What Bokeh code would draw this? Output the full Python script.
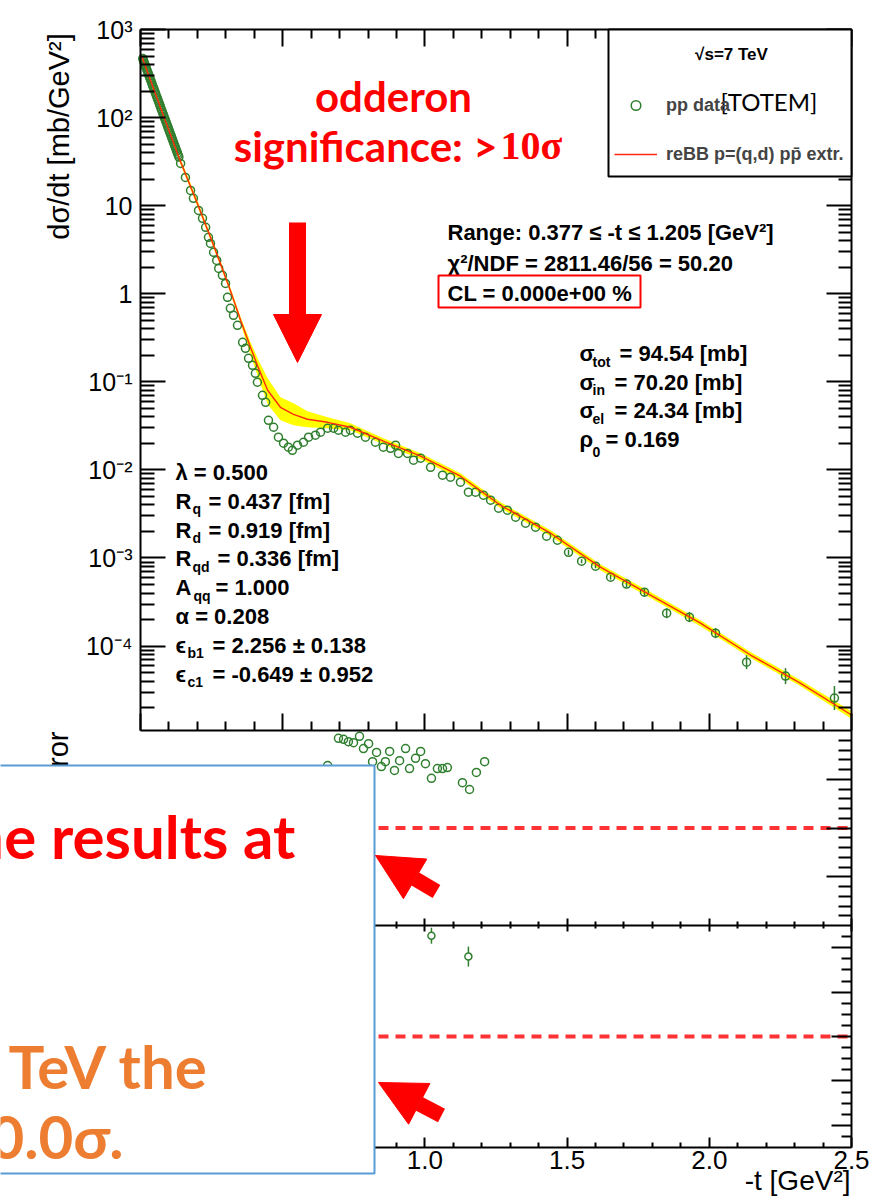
import math
from bokeh.plotting import figure
from bokeh.models import (Range1d, LinearAxis, LogAxis, FixedTicker, Label, LinearScale,
                          BoxAnnotation, Arrow, NormalHead, Legend, LegendItem)
from bokeh.embed import file_html
from bokeh.resources import INLINE

# ---------------------------------------------------------------- data
t_data = [0.008, 0.010, 0.012, 0.014, 0.016, 0.018, 0.020, 0.0225, 0.025, 0.0275,
          0.030, 0.0325, 0.035, 0.0375, 0.040, 0.0425, 0.045, 0.0475, 0.050, 0.0525,
          0.055, 0.0575, 0.060, 0.0625, 0.065, 0.0675, 0.070, 0.0725, 0.075, 0.0775,
          0.080, 0.0825, 0.085, 0.0875, 0.090, 0.0925, 0.095, 0.0975, 0.100, 0.1025,
          0.105, 0.1075, 0.110, 0.1125, 0.115, 0.1175, 0.120, 0.1225, 0.125, 0.1275,
          0.130, 0.1325, 0.135,
          0.141, 0.158, 0.176, 0.186, 0.204, 0.218, 0.229, 0.239, 0.246, 0.257,
          0.268, 0.275, 0.288, 0.299, 0.306, 0.316, 0.327, 0.341, 0.359, 0.369,
          0.380, 0.394, 0.404, 0.411, 0.429, 0.440, 0.450, 0.468, 0.485, 0.503,
          0.520, 0.534, 0.552, 0.573, 0.591, 0.615, 0.633, 0.658, 0.679, 0.696,
          0.721, 0.738, 0.763, 0.791, 0.826, 0.854, 0.879, 0.897, 0.907, 0.939,
          0.960, 0.985, 1.020, 1.062, 1.090, 1.125, 1.153, 1.178, 1.206, 1.231,
          1.259, 1.290, 1.319, 1.354, 1.389, 1.428, 1.466, 1.505, 1.551, 1.600,
          1.653, 1.709, 1.772, 1.850, 1.930, 2.022, 2.131, 2.268, 2.440]
dsig_data = [468, 449, 431, 414, 397, 381, 366, 348, 331, 315,
             299, 284, 270, 257, 244, 232, 221, 210, 200, 190,
             180, 171, 163, 155, 147, 140, 133, 126, 120, 114,
             109, 103, 98.2, 93.3, 88.7, 84.3, 80.2, 76.2, 72.4, 68.9,
             65.5, 62.3, 59.2, 56.3, 53.5, 50.8, 48.3, 45.9, 43.6, 41.5,
             39.4, 37.5, 35.6,
             30.2, 20.9, 14.9, 12.1, 8.83, 7.18, 5.67, 4.37, 3.73, 2.95,
             2.39, 1.94, 1.62, 1.31, 0.910, 0.684, 0.569, 0.438, 0.281, 0.240,
             0.185, 0.154, 0.125, 0.0989, 0.0703, 0.0586, 0.0366, 0.0305, 0.0235, 0.0201,
             0.0181, 0.0167, 0.0191, 0.0206, 0.0235, 0.0248, 0.0268, 0.0297, 0.0297, 0.0282,
             0.0268, 0.0282, 0.0261, 0.0235, 0.0206, 0.0181, 0.0176, 0.0191, 0.0154, 0.0154,
             0.0129, 0.0136, 0.0107, 0.00871, 0.00826, 0.00725, 0.00558, 0.00558, 0.00516, 0.00453,
             0.00367, 0.00349, 0.00290, 0.00248, 0.00224, 0.00177, 0.00159, 0.00116, 0.000920, 0.000807,
             0.000606, 0.000505, 0.000409, 0.000236, 0.000213, 0.000140, 0.0000657, 0.0000456, 0.0000257]

# visible error bars of the data
bar_t = [1.505, 1.551, 1.600, 1.653, 1.709, 1.772, 1.850, 1.930, 2.022, 2.131, 2.268, 2.440]
bar_lo = [0.00108, 0.000872, 0.000765, 0.000567, 0.000467, 0.000369, 0.000207, 0.000187,
          0.000123, 0.0000547, 0.0000370, 0.0000188]
bar_hi = [0.00124, 0.000970, 0.000851, 0.000647, 0.000546, 0.000454, 0.000269, 0.000243,
          0.000160, 0.0000789, 0.0000562, 0.0000352]

# reBB model curve and its uncertainty band
model_t = [0.005, 0.081, 0.141, 0.200, 0.246, 0.281, 0.316, 0.352, 0.387, 0.415,
           0.447, 0.492, 0.538, 0.587, 0.658, 0.738, 0.854, 0.985, 1.125, 1.266,
           1.442, 1.617, 1.793, 1.969, 2.145, 2.320, 2.500]
model_dsig = [490, 104, 31.5, 10.6, 4.37, 2.21, 1.09, 0.499, 0.246, 0.143,
              0.0802, 0.0514, 0.0428, 0.0376, 0.0347, 0.0305, 0.0212, 0.0143, 0.00848, 0.00397,
              0.00191, 0.000787, 0.000379, 0.000182, 0.0000791, 0.0000380, 0.0000165]
band_lo = [453, 96.2, 29.2, 9.8, 4.04, 2.04, 1.01, 0.455, 0.200, 0.110,
           0.0556, 0.0366, 0.0321, 0.0305, 0.0297, 0.0282, 0.0196, 0.0132, 0.00784, 0.00367,
           0.00177, 0.000728, 0.000351, 0.000168, 0.0000732, 0.0000352, 0.0000150]
band_hi = [530, 112.4, 34.0, 11.5, 4.72, 2.39, 1.18, 0.545, 0.281, 0.176,
           0.110, 0.0668, 0.0571, 0.0463, 0.0396, 0.0339, 0.0229, 0.0155, 0.00917, 0.00429,
           0.00206, 0.000851, 0.000410, 0.000197, 0.0000855, 0.0000411, 0.0000182]

# residual panels
res1_t = [0.658, 0.696, 0.714, 0.731, 0.749, 0.770, 0.784, 0.802, 0.816, 0.830,
          0.847, 0.861, 0.876, 0.893, 0.911, 0.932, 0.946, 0.967, 0.985, 1.002,
          1.023, 1.044, 1.062, 1.079, 1.132, 1.157, 1.181, 1.210]
res1_val = [12.8, 18.4, 18.2, 17.7, 17.5, 18.8, 16.3, 17.3, 13.6, 15.5,
            12.6, 13.6, 15.7, 11.8, 13.8, 16.3, 12.2, 14.3, 15.7, 13.2,
            10.2, 12.2, 12.2, 12.4, 9.3, 7.9, 11.4, 13.6]
res2_t = [1.023, 1.153]
res2_val = [2.27, 1.80]
res2_lo = [2.09, 1.575]
res2_hi = [2.45, 2.025]

# axes ticks
x_major = [0.0, 0.5, 1.0, 1.5, 2.0, 2.5]
x_tick_labels = ["", "", "1.0", "1.5", "2.0", "2.5"]
x_minor = [0.1, 0.2, 0.3, 0.4, 0.6, 0.7, 0.8, 0.9, 1.1, 1.2, 1.3, 1.4, 1.6, 1.7, 1.8, 1.9,
           2.1, 2.2, 2.3, 2.4]
y_major = [1e-4, 1e-3, 1e-2, 1e-1, 1.0, 10.0, 100.0, 1000.0]
y_tick_labels = ["10\u207b\u2074", "10\u207b\u00b3", "10\u207b\u00b2", "10\u207b\u00b9",
                 "1", "10", "10\u00b2", "10\u00b3"]
res1_major = [-10, 0, 10]
res2_major = [-2, -1, 0, 1, 2]

# texts
fit_lines = ["Range: 0.377 \u2264 -t \u2264 1.205 [GeV\u00b2]",
             "\u03c7\u00b2/NDF = 2811.46/56 = 50.20",
             "CL = 0.000e+00 %"]
# (symbol, subscript, rest)
params_left = [("\u03bb = 0.500", "", ""),
               ("R", "q", "= 0.437 [fm]"),
               ("R", "d", "= 0.919 [fm]"),
               ("R", "qd", "= 0.336 [fm]"),
               ("A", "qq", "= 1.000"),
               ("\u03b1 = 0.208", "", ""),
               ("\u03f5", "b1", "= 2.256 \u00b1 0.138"),
               ("\u03f5", "c1", "= -0.649 \u00b1 0.952")]
params_right = [("\u03c3", "tot", "= 94.54 [mb]"),
                ("\u03c3", "in", "= 70.20 [mb]"),
                ("\u03c3", "el", "= 24.34 [mb]"),
                ("\u03c1", "0", "= 0.169")]

# ---------------------------------------------------------------- layout
W, H = 871, 1197
FL, FR, FT, FB = 140, 851, 29, 1147      # frame of the physics plot (px)
P1B, P2B = 730, 925                     # panel borders (px)
X0, X1 = 0.0, 2.5
Y_TOP, Y1_BOTTOM = 1e3, 1.1e-5
RES1_HALF, RES2_HALF = 20.0, 2.5
GREEN = "#2f7f2f"

PXDEC = (P1B - FT) / (math.log10(Y_TOP) - math.log10(Y1_BOTTOM))


def dx(px):
    return X0 + (px - FL) * (X1 - X0) / (FR - FL)


def dy(py):
    return 10 ** (math.log10(Y_TOP) - (py - FT) / PXDEC)


u1 = (P2B - P1B) / (2 * RES1_HALF)
m1 = (P1B + P2B) / 2
u2 = (FB - P2B) / (2 * RES2_HALF)
m2 = (P2B + FB) / 2

p = figure(width=W, height=H, x_range=Range1d(dx(0), dx(W)), y_range=Range1d(dy(H), dy(0)),
           y_axis_type="log", output_backend="svg", toolbar_location=None,
           min_border_left=0, min_border_right=0, min_border_top=0, min_border_bottom=0,
           background_fill_color="white", border_fill_color="white",
           outline_line_color=None)
p.extra_y_ranges = {"res1": Range1d((m1 - H) / u1, m1 / u1),
                    "res2": Range1d((m2 - H) / u2, m2 / u2)}
p.extra_y_scales = {"res1": LinearScale(), "res2": LinearScale()}
p.xgrid.visible = False
p.ygrid.visible = False


def style_axis(ax, major_in, minor_in, major_out=0, minor_out=0, labels=True):
    ax.axis_line_width = 2
    ax.axis_line_color = "black"
    ax.major_tick_in = major_in
    ax.major_tick_out = major_out
    ax.minor_tick_in = minor_in
    ax.minor_tick_out = minor_out
    ax.major_tick_line_width = 2
    ax.minor_tick_line_width = 2
    if labels:
        ax.major_label_text_font = "Liberation Sans"
        ax.major_label_text_color = "black"
    else:
        ax.major_label_text_font_size = "1px"
        ax.major_label_text_color = None
        ax.major_label_standoff = 0


y_minor = [k * 10.0 ** e for e in range(-5, 3) for k in range(2, 10)]
x_ticker = FixedTicker(ticks=x_major, minor_ticks=x_minor)
y_ticker = FixedTicker(ticks=y_major, minor_ticks=y_minor)

# left axis of the upper panel
ya = p.yaxis[0]
ya.ticker = y_ticker
ya.fixed_location = X0
ya.bounds = (Y1_BOTTOM, Y_TOP)
ya.major_label_overrides = dict(zip(y_major, y_tick_labels))
style_axis(ya, 25, 14)
ya.major_label_text_font_size = "25px"
ya.major_label_standoff = 8

# bottom axis (under the lowest panel)
xa = p.xaxis[0]
xa.ticker = x_ticker
xa.fixed_location = dy(FB)
xa.bounds = (X0, X1)
xa.major_label_overrides = dict(zip(x_major, x_tick_labels))
style_axis(xa, 10, 5)
xa.major_label_text_font_size = "26px"
xa.major_label_standoff = 3

# top axis and the two panel borders
top = LinearAxis(ticker=x_ticker, fixed_location=Y_TOP, bounds=(X0, X1))
style_axis(top, 17, 9, labels=False)
p.add_layout(top, "above")
b1 = LinearAxis(ticker=x_ticker, fixed_location=Y1_BOTTOM, bounds=(X0, X1))
style_axis(b1, 17, 9, labels=False)
p.add_layout(b1, "below")
b2 = LinearAxis(ticker=x_ticker, fixed_location=dy(P2B), bounds=(X0, X1))
style_axis(b2, 7, 4, major_out=6, minor_out=3, labels=False)
p.add_layout(b2, "below")

# right axes of the three panels
r_main = LogAxis(ticker=y_ticker, fixed_location=X1, bounds=(Y1_BOTTOM, Y_TOP))
style_axis(r_main, 25, 13, labels=False)
p.add_layout(r_main, "right")
r1 = LinearAxis(y_range_name="res1", fixed_location=X1, bounds=(-RES1_HALF, RES1_HALF),
                ticker=FixedTicker(ticks=res1_major,
                                   minor_ticks=[v for v in range(-18, 19, 2) if v % 10]))
style_axis(r1, 25, 13, labels=False)
p.add_layout(r1, "right")
r2 = LinearAxis(y_range_name="res2", fixed_location=X1, bounds=(-RES2_HALF, RES2_HALF),
                ticker=FixedTicker(ticks=res2_major,
                                   minor_ticks=[k / 4 for k in range(-9, 10) if k % 4]))
style_axis(r2, 20, 10, labels=False)
p.add_layout(r2, "right")

# ---------------------------------------------------------------- glyphs
p.varea(x=model_t, y1=band_lo, y2=band_hi, fill_color="#ffff00")
pts = p.scatter(t_data, dsig_data, marker="circle", size=8, fill_color=None,
                line_color=GREEN, line_width=1.5)
p.segment(x0=bar_t, y0=bar_lo, x1=bar_t, y1=bar_hi, line_color=GREEN, line_width=1.5)
model = p.line(model_t, model_dsig, line_color="#ff2a10", line_width=1.4)

p.scatter(res1_t, res1_val, y_range_name="res1", marker="circle", size=8, fill_color=None,
          line_color=GREEN, line_width=1.5)
p.segment(x0=res2_t, y0=res2_lo, x1=res2_t, y1=res2_hi, y_range_name="res2",
          line_color=GREEN, line_width=1.5)
p.scatter(res2_t, res2_val, y_range_name="res2", marker="circle", size=7, fill_color="white",
          line_color=GREEN, line_width=1.5)

# zero lines of the residual panels
for rname in ("res1", "res2"):
    p.segment(x0=[X0], y0=[0.0], x1=[X1], y1=[0.0], y_range_name=rname,
              line_color="#ff3333", line_width=4, line_dash="10 7")


# ---------------------------------------------------------------- texts
def label(px, py, text, size, color="black", font="Liberation Sans", style="bold",
          align="left", baseline="middle", angle=0.0):
    p.add_layout(Label(x=dx(px), y=dy(py), text=text, text_font_size=f"{size}px",
                       text_color=color, text_font=font, text_font_style=style,
                       text_align=align, text_baseline=baseline, angle=angle))


label(58, 136, "d\u03c3/dt [mb/GeV\u00b2]", 29, style="normal", align="center", angle=math.pi / 2)
label(57, 731, "ror", 29, style="normal", align="right", angle=math.pi / 2)
label(850, 1180, "-t [GeV\u00b2]", 28, style="normal", align="right")

for i, s in enumerate(fit_lines):
    label(447, 232 + 30.5 * i, s, 22)

left_sub_x = [0, 192, 192, 192, 193, 0, 187, 187]
left_eq_x = [0, 208, 208, 217, 215, 0, 212, 212]
for i, (sym, sub, rest) in enumerate(params_left):
    y = 472 + 28.8 * i
    label(175, y, sym, 22)
    if sub:
        label(left_sub_x[i], y + 8, sub, 14)
        label(left_eq_x[i], y, rest, 22)

right_eq_x = [619, 614, 614, 605]
right_sub_dy = [8, 8, 8, 13]
for i, (sym, sub, rest) in enumerate(params_right):
    y = 353 + 28.5 * i
    label(579, y, sym, 22)
    label(592, y + right_sub_dy[i], sub, 14)
    label(right_eq_x[i], y, rest, 22)

p.add_layout(BoxAnnotation(left=dx(438), right=dx(640), top=dy(275), bottom=dy(307),
                           fill_color=None, line_color="red", line_alpha=1.0, line_width=2))

label(393, 95, "odderon", 42, color="red", font="Lato", align="center", baseline="alphabetic")
label(497, 145, "significance: >", 42, color="red", font="Lato", align="right",
      baseline="alphabetic")
label(500, 145, "10\u03c3", 40, color="red", font="Liberation Serif", baseline="alphabetic")

head = dict(fill_color="red", line_color="red", line_width=1)
p.add_layout(Arrow(x_start=dx(297), y_start=dy(222), x_end=dx(297), y_end=dy(362),
                   line_color="red", line_width=17, end=NormalHead(size=48, **head)))

# ---------------------------------------------------------------- legend
p.add_layout(BoxAnnotation(left=dx(608), right=X1, top=Y_TOP, bottom=dy(176),
                           fill_color="white", fill_alpha=1.0, line_color="black",
                           line_alpha=1.0, line_width=2))
legend = Legend(items=[LegendItem(label="pp data", renderers=[pts]),
                       LegendItem(label="reBB p=(q,d) pp\u0304 extr.", renderers=[model])],
                location=(614, H - 166), padding=8, spacing=25, glyph_width=43,
                glyph_height=24, label_height=24, label_standoff=9, margin=0,
                label_text_font="Liberation Sans", label_text_font_style="bold",
                label_text_font_size="18px", border_line_color=None,
                background_fill_alpha=0.0)
p.add_layout(legend)
label(731, 54, "\u221as=7 TeV", 17, align="center")
label(720, 101, "[TOTEM]", 24, font="Lato", style="normal")

# ---------------------------------------------------------------- overlay slide box
p.add_layout(BoxAnnotation(left=dx(-12), right=dx(374), top=dy(765), bottom=dy(1173),
                           fill_color="white", fill_alpha=1.0, line_color="#5b9bd5",
                           line_alpha=1.0, line_width=2))
label(-30, 835, "he results at", 60, color="red", font="Lato", baseline="alphabetic")
label(8, 1065, "TeV the", 60, color="#ed7d31", font="Lato", baseline="alphabetic")
label(-11, 1135, "0.0\u03c3.", 60, color="#ed7d31", font="Lato", baseline="alphabetic")

p.add_layout(Arrow(x_start=dx(436), y_start=dy(891), x_end=dx(375), y_end=dy(855),
                   line_color="red", line_width=15, end=NormalHead(size=46, **head)))
p.add_layout(Arrow(x_start=dx(441), y_start=dy(1115), x_end=dx(378), y_end=dy(1082),
                   line_color="red", line_width=15, end=NormalHead(size=46, **head)))

with open("out.html", "w") as f:
    f.write(file_html(p, INLINE, title="odderon significance"))
